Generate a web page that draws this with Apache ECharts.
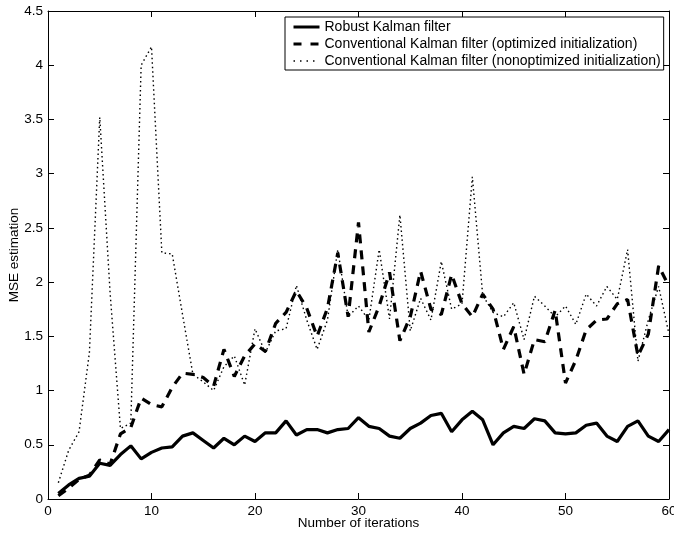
<!DOCTYPE html>
<html>
<head>
<meta charset="utf-8">
<script src="https://cdn.jsdelivr.net/npm/echarts@6/dist/echarts.min.js"></script>
<style>
	html,body{margin:0;padding:0;background:#fff;}
	#main{width:674px;height:535px;}
</style>
</head>
<body>
<div id="main"></div>
<script>
// iterations 1..60
var iterations = [];
for (var i = 1; i <= 60; i++) iterations.push(i);

// Robust Kalman filter
var robust = [0.05,0.13,0.19,0.21,0.33,0.31,0.41,0.49,0.37,0.43,
	0.47,0.48,0.58,0.61,0.54,0.47,0.56,0.50,0.58,0.53,
	0.61,0.61,0.72,0.59,0.64,0.64,0.61,0.64,0.65,0.75,
	0.67,0.65,0.58,0.56,0.65,0.70,0.77,0.79,0.62,0.73,
	0.81,0.73,0.50,0.61,0.67,0.65,0.74,0.72,0.61,0.60,
	0.61,0.68,0.70,0.58,0.53,0.67,0.72,0.58,0.53,0.64];

// Conventional (optimized initialization)
var optimized = [0.03,0.10,0.18,0.22,0.36,0.32,0.60,0.66,0.93,0.87,
	0.85,1.03,1.16,1.15,1.12,1.04,1.38,1.13,1.32,1.43,
	1.36,1.62,1.72,1.92,1.76,1.50,1.76,2.27,1.68,2.55,
	1.54,1.78,2.09,1.46,1.68,2.10,1.75,1.70,2.07,1.80,
	1.68,1.89,1.75,1.38,1.59,1.15,1.47,1.45,1.74,1.07,
	1.28,1.56,1.65,1.66,1.80,1.84,1.32,1.52,2.15,1.96];

// Conventional (nonoptimized initialization)
var nonoptimized = [0.15,0.45,0.62,1.35,3.52,1.90,0.65,0.70,4.00,4.17,
	2.27,2.26,1.70,1.15,1.08,1.00,1.22,1.32,1.05,1.57,
	1.35,1.55,1.57,1.97,1.65,1.38,1.65,2.30,1.68,1.78,
	1.65,2.30,1.66,2.62,1.55,1.85,1.65,2.19,1.75,1.80,
	2.97,1.88,1.72,1.68,1.81,1.47,1.87,1.78,1.68,1.78,
	1.61,1.89,1.78,1.96,1.84,2.30,1.27,1.65,1.96,1.52];

var names = ['Robust Kalman filter',
	'Conventional Kalman filter (optimized initialization)',
	'Conventional Kalman filter (nonoptimized initialization)'];

function pairs(arr){
	return arr.map(function(v, k){ return [iterations[k], v]; });
}

var chart = echarts.init(document.getElementById('main'));
var font = 'Liberation Sans, Arial, Helvetica, sans-serif';

var axisCommon = {
	axisLine: {show:true, onZero:false, lineStyle:{color:'#000', width:1}},
	axisTick: {show:true, inside:true, length:6, lineStyle:{color:'#000'}},
	splitLine: {show:false}
};

var solidStyle = {color:'#000', width:3.2, type:'solid'};
var dashStyle = {color:'#000', width:3.2, type:[9,7]};
var dotStyle = {color:'#000', width:1.4, type:[1.5,3]};

chart.setOption({
	backgroundColor: '#fff',
	animation: false,
	textStyle: {fontFamily: font, color:'#000'},
	grid: {left:48, right:5, top:11, bottom:36, outerBoundsMode:'none', containLabel:false},
	legend: {
		orient: 'vertical',
		left: 285,
		top: 17,
		backgroundColor: '#fff',
		borderColor: '#000',
		borderWidth: 1,
		padding: [3, 3, 2, 7],
		itemGap: 3,
		itemWidth: 26,
		itemHeight: 12,
		textStyle: {fontSize: 14, color:'#000', fontFamily: font},
		data: [
			{name: names[0], itemStyle:{opacity:0}, lineStyle:{color:'#000', width:3, type:'solid'}},
			{name: names[1], itemStyle:{opacity:0}, lineStyle:{color:'#000', width:3, type:[8,9]}},
			{name: names[2], itemStyle:{opacity:0}, lineStyle:{color:'#000', width:1.3, type:[1.5,5]}}
		]
	},
	xAxis: [
		Object.assign({
			type:'value', min:0, max:60, interval:10, position:'bottom',
			name:'Number of iterations', nameLocation:'middle', nameGap:17, nameMoveOverlap:false,
			nameTextStyle:{fontSize:13.5, color:'#000'},
			axisLabel:{color:'#000', fontSize:13.5, margin:5}
		}, axisCommon),
		Object.assign({
			type:'value', min:0, max:60, interval:10, position:'top',
			axisLabel:{show:false}
		}, axisCommon)
	],
	yAxis: [
		Object.assign({
			type:'value', min:0, max:4.5, interval:0.5, position:'left',
			name:'MSE estimation', nameLocation:'middle', nameGap:27, nameMoveOverlap:false,
			nameTextStyle:{fontSize:13.5, color:'#000'},
			axisLabel:{color:'#000', fontSize:13.5, margin:5}
		}, axisCommon),
		Object.assign({
			type:'value', min:0, max:4.5, interval:0.5, position:'right',
			axisLabel:{show:false}
		}, axisCommon)
	],
	series: [
		{
			name: names[0], type:'line', symbol:'none', data: pairs(robust),
			lineStyle: solidStyle, itemStyle:{color:'#000'}, z:4
		},
		{
			name: names[1], type:'line', symbol:'none', data: pairs(optimized),
			lineStyle: dashStyle, itemStyle:{color:'#000'}, z:3
		},
		{
			name: names[2], type:'line', symbol:'none', data: pairs(nonoptimized),
			lineStyle: dotStyle, itemStyle:{color:'#000'}, z:2
		}
	]
});
</script>
</body>
</html>
